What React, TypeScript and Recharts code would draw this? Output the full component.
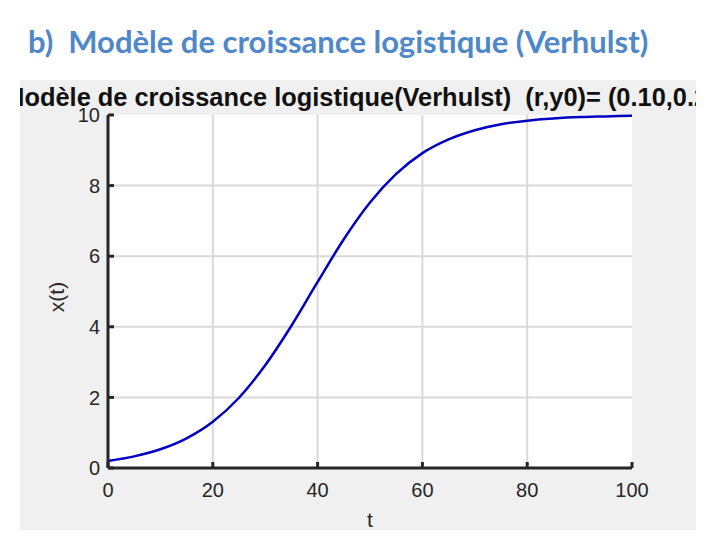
import { LineChart, Line, XAxis, YAxis, CartesianGrid } from "recharts";

const T_VALUES = [0, 5, 10, 15, 20, 25, 30, 35, 40, 45, 50, 55, 60, 65, 70, 75, 80, 85, 90, 95, 100];
const X_VALUES = [0.2, 0.33, 0.53, 0.84, 1.31, 1.99, 2.91, 4.03, 5.27, 6.48, 7.52, 8.33, 8.92, 9.31, 9.57, 9.74, 9.84, 9.9, 9.94, 9.96, 9.98];
const X_TICKS = [0, 20, 40, 60, 80, 100];
const Y_TICKS = [0, 2, 4, 6, 8, 10];

const data = T_VALUES.map((t, i) => ({ t, x: X_VALUES[i] }));

const AXIS = "#262626";
const FONT = "Liberation Sans, Arial, sans-serif";
const tickStyle = { fontSize: 20, fill: "#262626", fontFamily: FONT };

export default function App() {
  return (
    <div style={{ position: "absolute", left: 0, top: 0, width: 720, height: 540, background: "#fff", overflow: "hidden" }}>
      <div style={{
        position: "absolute", left: 28, top: 23, whiteSpace: "nowrap", lineHeight: 1.2,
        fontFamily: "Lato, sans-serif", fontWeight: 700, fontSize: 31, color: "#4f88c9",
      }}>
        b)&nbsp; Modèle de croissance logistique (Verhulst)
      </div>

      <div style={{ position: "absolute", left: 20, top: 80, width: 676, height: 450, background: "#f0f0f0", overflow: "hidden" }}>
        <div style={{
          position: "absolute", left: 347, top: 3, transform: "translateX(-50%)", whiteSpace: "nowrap",
          fontFamily: FONT, fontWeight: 700, fontSize: 25.4, lineHeight: "28px", color: "#111",
        }}>
          Modèle de croissance logistique(Verhulst)&nbsp; (r,y0)= (0.10,0.20)
        </div>

        <LineChart width={676} height={450} data={data} margin={{ top: 35, right: 64, bottom: 32, left: 48 }}>
          <CartesianGrid fill="#ffffff" stroke="#d9d9d9" strokeWidth={2} verticalValues={[20, 40, 60, 80]} horizontalValues={[2, 4, 6, 8]} />
          <XAxis
            dataKey="t" type="number" domain={[0, 100]} ticks={X_TICKS}
            axisLine={{ stroke: AXIS, strokeWidth: 3 }} tickLine={{ stroke: AXIS, strokeWidth: 3 }}
            tickSize={-6} tickMargin={21} height={30} tick={tickStyle}
          />
          <XAxis xAxisId="top" orientation="top" dataKey="t" type="number" domain={[0, 100]} ticks={X_TICKS}
            axisLine={{ stroke: AXIS, strokeWidth: 3 }} tickLine={{ stroke: AXIS, strokeWidth: 3 }}
            tickSize={-6} tick={false} height={0} />
          <YAxis
            type="number" domain={[0, 10]} ticks={Y_TICKS}
            axisLine={{ stroke: AXIS, strokeWidth: 3 }} tickLine={{ stroke: AXIS, strokeWidth: 3 }}
            tickSize={-6} tickMargin={14} width={40} tick={tickStyle}
          />
          <YAxis yAxisId="right" orientation="right" type="number" domain={[0, 10]} ticks={Y_TICKS}
            axisLine={{ stroke: AXIS, strokeWidth: 3 }} tickLine={{ stroke: AXIS, strokeWidth: 3 }}
            tickSize={-6} tick={false} width={0} />
          <Line type="monotone" dataKey="x" stroke="#0000c4" strokeWidth={2.5} dot={false} isAnimationActive={false} />
        </LineChart>

        <div style={{
          position: "absolute", left: 17, top: 205, width: 40, height: 24, lineHeight: "24px",
          transform: "rotate(-90deg)", transformOrigin: "center",
          fontFamily: FONT, fontSize: 21, color: "#262626", textAlign: "center",
        }}>
          x(t)
        </div>
        <div style={{
          position: "absolute", left: 330, top: 431, width: 40, height: 18, lineHeight: "18px", textAlign: "center",
          fontFamily: FONT, fontSize: 21, color: "#262626",
        }}>
          t
        </div>
      </div>
    </div>
  );
}
